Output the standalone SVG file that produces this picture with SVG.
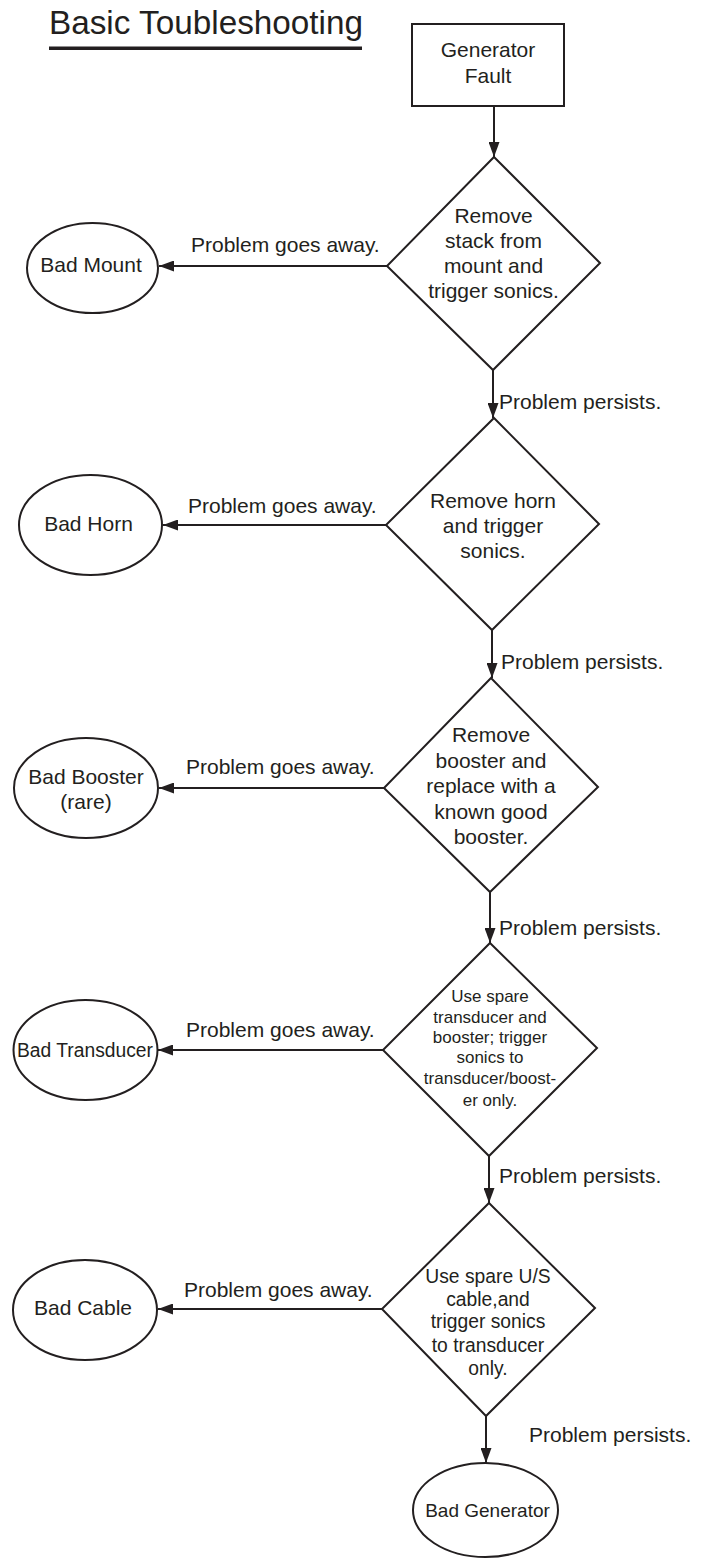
<svg xmlns="http://www.w3.org/2000/svg" width="704" height="1558" viewBox="0 0 704 1558">
<style>
text{font-family:"Liberation Sans",Arial,sans-serif;fill:#231f20;font-size:21px}
.c{text-anchor:middle}
.s{font-size:17px}
.m{font-size:19.3px}
.shape{fill:#fff;stroke:#231f20;stroke-width:2}
.ln{stroke:#231f20;stroke-width:2;fill:none;marker-end:url(#ah)}
</style>
<defs>
<marker id="ah" markerUnits="userSpaceOnUse" markerWidth="15" markerHeight="11" refX="15" refY="5.5" orient="auto">
<path d="M0,0 L15,5.5 L0,11 z" fill="#231f20"/>
</marker>
</defs>
<rect width="704" height="1558" fill="#fff"/>
<g id="title">
<text x="49" y="34" style="font-size:33px" textLength="314" lengthAdjust="spacingAndGlyphs">Basic Toubleshooting</text>
<rect x="49" y="46.5" width="313" height="3.5" fill="#231f20"/>
</g>
<g id="connectors">
<line class="ln" x1="494" y1="106" x2="494" y2="157"/>
<line class="ln" x1="387" y1="266" x2="159" y2="266"/>
<line class="ln" x1="493" y1="370" x2="493" y2="418"/>
<line class="ln" x1="386" y1="525" x2="163" y2="525"/>
<line class="ln" x1="492" y1="630" x2="492" y2="678"/>
<line class="ln" x1="384" y1="788" x2="159" y2="788"/>
<line class="ln" x1="490" y1="892" x2="490" y2="943"/>
<line class="ln" x1="383" y1="1050" x2="158" y2="1050"/>
<line class="ln" x1="489" y1="1156" x2="489" y2="1203"/>
<line class="ln" x1="382" y1="1309" x2="158" y2="1309"/>
<line class="ln" x1="486" y1="1416" x2="486" y2="1463"/>
<text x="191" y="252">Problem goes away.</text>
<text x="499" y="409">Problem persists.</text>
<text x="188" y="513">Problem goes away.</text>
<text x="501" y="669">Problem persists.</text>
<text x="186" y="774">Problem goes away.</text>
<text x="499" y="935">Problem persists.</text>
<text x="186" y="1037">Problem goes away.</text>
<text x="499" y="1183">Problem persists.</text>
<text x="184" y="1297">Problem goes away.</text>
<text x="529" y="1442">Problem persists.</text>
</g>
<g id="generator-fault">
<rect class="shape" x="412" y="24" width="152" height="82"/>
<text class="c" x="488" y="57">Generator</text>
<text class="c" x="488" y="83">Fault</text>
</g>
<g id="d1">
<polygon class="shape" points="494,157 600,263 493,370 387,266"/>
<text class="c" x="493.5" y="223">Remove</text>
<text class="c" x="493.5" y="248">stack from</text>
<text class="c" x="493.5" y="273">mount and</text>
<text class="c" x="493.5" y="298">trigger sonics.</text>
</g>
<g id="bad-mount">
<ellipse class="shape" cx="92.5" cy="268" rx="65.5" ry="45"/>
<text class="c" x="91" y="272">Bad Mount</text>
</g>
<g id="d2">
<polygon class="shape" points="494,418 599,524 492,630 386,525"/>
<text class="c" x="493" y="508">Remove horn</text>
<text class="c" x="493" y="533">and trigger</text>
<text class="c" x="493" y="558">sonics.</text>
</g>
<g id="bad-horn">
<ellipse class="shape" cx="90.5" cy="525" rx="71.5" ry="50"/>
<text class="c" x="88.5" y="531">Bad Horn</text>
</g>
<g id="d3">
<polygon class="shape" points="491,678 598,787 490,892 384,788"/>
<text class="c" x="491" y="742">Remove</text>
<text class="c" x="491" y="767.5">booster and</text>
<text class="c" x="491" y="793">replace with a</text>
<text class="c" x="491" y="818.5">known good</text>
<text class="c" x="491" y="844">booster.</text>
</g>
<g id="bad-booster">
<ellipse class="shape" cx="86" cy="788" rx="72" ry="50"/>
<text class="c" x="86" y="784">Bad Booster</text>
<text class="c" x="86" y="809">(rare)</text>
</g>
<g id="d4">
<polygon class="shape" points="490,943 597,1048 489,1156 383,1050"/>
<text class="c s" x="490" y="1002">Use spare</text>
<text class="c s" x="490" y="1023">transducer and</text>
<text class="c s" x="490" y="1043">booster; trigger</text>
<text class="c s" x="490" y="1063">sonics to</text>
<text class="c s" x="490" y="1084">transducer/boost-</text>
<text class="c s" x="490" y="1106">er only.</text>
</g>
<g id="bad-transducer">
<ellipse class="shape" cx="85.5" cy="1050" rx="72" ry="50"/>
<text class="c" x="85" y="1057" style="font-size:20px" textLength="136" lengthAdjust="spacingAndGlyphs">Bad Transducer</text>
</g>
<g id="d5">
<polygon class="shape" points="489,1203 595,1308 486,1416 382,1309"/>
<text class="c m" x="488" y="1283">Use spare U/S</text>
<text class="c m" x="488" y="1306">cable,and</text>
<text class="c m" x="488" y="1328">trigger sonics</text>
<text class="c m" x="488" y="1352">to transducer</text>
<text class="c m" x="488" y="1375">only.</text>
</g>
<g id="bad-cable">
<ellipse class="shape" cx="85" cy="1310" rx="72" ry="50"/>
<text class="c" x="83" y="1315">Bad Cable</text>
</g>
<g id="bad-generator">
<ellipse class="shape" cx="485.5" cy="1510" rx="72.5" ry="47"/>
<text class="c" x="487.5" y="1517" style="font-size:19px">Bad Generator</text>
</g>
</svg>
